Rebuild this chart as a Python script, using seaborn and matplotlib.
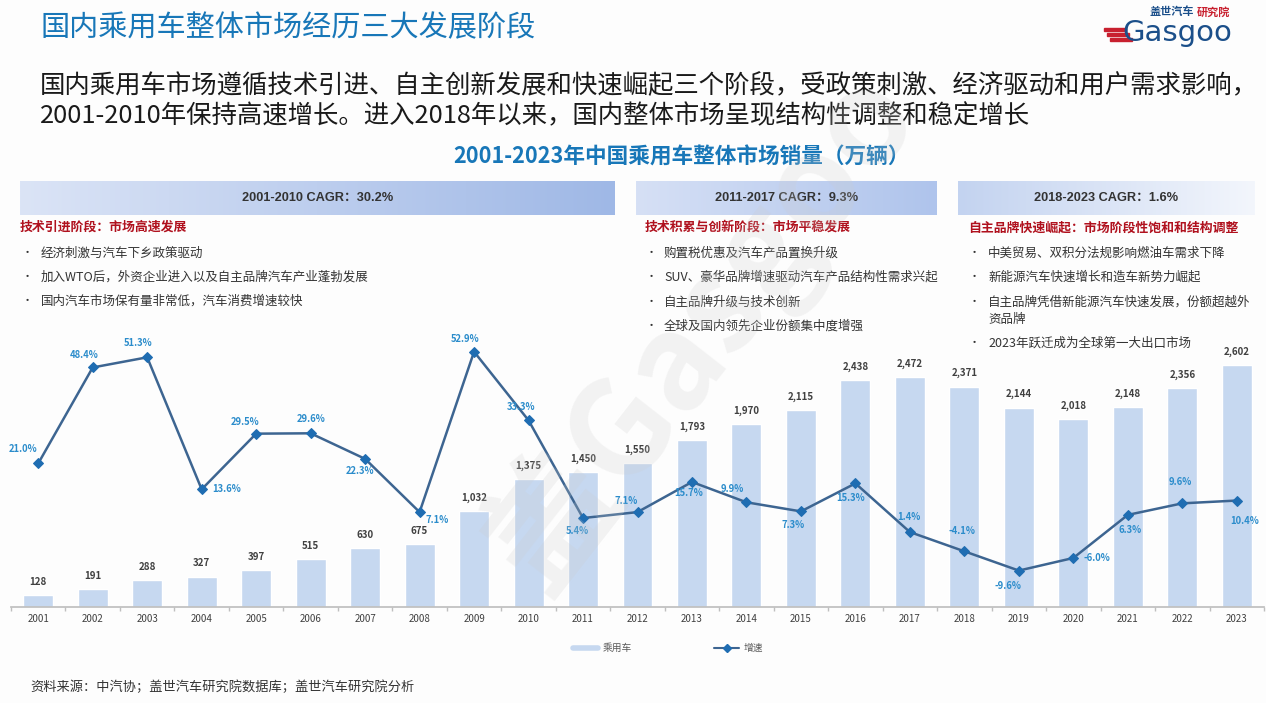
import numpy as np
import pandas as pd
import seaborn as sns
import matplotlib.pyplot as plt
from matplotlib.lines import Line2D
from matplotlib.patches import Rectangle

# 数据
years = [str(y) for y in range(2001, 2024)]
sales = [128, 191, 288, 327, 397, 515, 630, 675, 1032, 1375, 1450, 1550,
         1793, 1970, 2115, 2438, 2472, 2371, 2144, 2018, 2148, 2356, 2602]
growth = [21.0, 48.4, 51.3, 13.6, 29.5, 29.6, 22.3, 7.1, 52.9, 33.3, 5.4, 7.1,
          15.7, 9.9, 7.3, 15.3, 1.4, -4.1, -9.6, -6.0, 6.3, 9.6, 10.4]

stage_titles = ['2001-2010 CAGR：30.2%', '2011-2017 CAGR：9.3%', '2018-2023 CAGR：1.6%']
stage_heads = ['技术引进阶段：市场高速发展', '技术积累与创新阶段：市场平稳发展',
               '自主品牌快速崛起：市场阶段性饱和和结构调整']
stage_points = [
    ['经济刺激与汽车下乡政策驱动', '加入WTO后，外资企业进入以及自主品牌汽车产业蓬勃发展',
     '国内汽车市场保有量非常低，汽车消费增速较快'],
    ['购置税优惠及汽车产品置换升级', 'SUV、豪华品牌增速驱动汽车产品结构性需求兴起',
     '自主品牌升级与技术创新', '全球及国内领先企业份额集中度增强'],
    ['中美贸易、双积分法规影响燃油车需求下降', '新能源汽车快速增长和造车新势力崛起',
     '自主品牌凭借新能源汽车快速发展，份额超越外\n资品牌', '2023年跃迁成为全球第一大出口市场'],
]

df = pd.DataFrame({'year': years, 'sales': sales, 'growth': growth})
df['pos'] = np.arange(len(df))

sns.set_theme(style='white')
plt.rcParams['font.family'] = ['Noto Sans CJK SC', 'DejaVu Sans']

W, H = 1266, 703
fig = plt.figure(figsize=(W / 100, H / 100), dpi=100)
fig.patch.set_facecolor('#fdfdfd')


def fx(x):
    return x / W


def fy(y):
    return 1 - y / H


# 标题
fig.text(fx(41), fy(28), '国内乘用车整体市场经历三大发展阶段', fontsize=21,
         color='#1877b8', va='center', ha='left')
fig.text(fx(40), fy(86), '国内乘用车市场遵循技术引进、自主创新发展和快速崛起三个阶段，受政策刺激、经济驱动和用户需求影响，',
         fontsize=18.3, color='#1a1a1a', va='center', ha='left')
fig.text(fx(40), fy(116), '2001-2010年保持高速增长。进入2018年以来，国内整体市场呈现结构性调整和稳定增长',
         fontsize=18.3, color='#1a1a1a', va='center', ha='left')
fig.text(fx(681), fy(157), '2001-2023年中国乘用车整体市场销量（万辆）', fontsize=15.6,
         color='#1877b8', fontweight='bold', va='center', ha='center')

# logo
for i, yy in enumerate([29, 34, 39]):
    fig.patches.append(Rectangle((fx(1104 + i * 3), fy(yy + 2)), fx(22), 3 / H,
                                 transform=fig.transFigure, color='#c8202f'))
fig.text(fx(1150), fy(12), '盖世汽车', fontsize=8, color='#1b4f8a', fontweight='bold', va='center')
fig.text(fx(1197), fy(12), '研究院', fontsize=8, color='#c8202f', fontweight='bold', va='center')
fig.text(fx(1122), fy(33), 'Gasgoo', fontsize=21, color='#1b4f8a', va='center', ha='left',
         family='DejaVu Sans')

# 阶段说明
bands = [(20, 615, '#dbe4f6', '#9fb8e6'), (636, 937, '#d6e0f5', '#afc4ec'),
         (958, 1255, '#c3d3f0', '#f3f6fc')]
head_x = [20, 645, 968]
text_x = [(22, 41), (646, 664), (969, 988)]
bullet_y = [[253, 277, 301], [253, 277, 302, 326], [253, 277, 302, 343]]
for k, (x0, x1, c0, c1) in enumerate(bands):
    bax = fig.add_axes([fx(x0), fy(215), fx(x1 - x0), 34 / H])
    grad = np.linspace(0, 1, 256).reshape(1, -1)
    cmap = sns.blend_palette([c0, c1], as_cmap=True)
    bax.imshow(grad, aspect='auto', cmap=cmap, extent=[0, 1, 0, 1])
    bax.set_axis_off()
    bax.text(0.5, 0.5, stage_titles[k], ha='center', va='center', fontsize=9.2,
             fontweight='bold', color='#333333', family=['Liberation Sans', 'Noto Sans CJK SC'])
    fig.text(fx(head_x[k]), fy(227), stage_heads[k], fontsize=9.3, fontweight='bold',
             color='#b0111e', va='center', ha='left')
    bx, tx = text_x[k]
    for j, line in enumerate(stage_points[k]):
        yy = bullet_y[k][j]
        fig.text(fx(bx), fy(yy), '•', fontsize=8, color='#333333', va='center')
        if '\n' in line:
            fig.text(fx(tx), fy(yy - 6), line, fontsize=9, color='#333333',
                     va='top', ha='left', linespacing=1.35)
        else:
            fig.text(fx(tx), fy(yy), line, fontsize=9, color='#333333',
                     va='center', ha='left')

# 主图
ax = fig.add_axes([fx(11), fy(607), fx(1253), 277 / H])
ax.set_facecolor('none')
sns.barplot(data=df, x='year', y='sales', color='#c6d8f0', saturation=1, width=0.55, ax=ax)
ax.set_ylim(0, 2980)
ax.set_xlim(-0.5, len(df) - 0.5)
ax.bar_label(ax.containers[0], labels=[f'{v:,}' for v in sales], padding=6,
             fontsize=7, fontweight='bold', color='#404040')
ax.set_xlabel('')
ax.set_ylabel('')
ax.set_yticks([])
for s in ['top', 'right', 'left']:
    ax.spines[s].set_visible(False)
ax.spines['bottom'].set_color('#bfbfbf')
ax.tick_params(axis='x', length=0, labelsize=7, labelcolor='#404040', pad=5)
ax.set_xticks(np.arange(-0.5, len(df), 1), minor=True)
ax.tick_params(axis='x', which='minor', length=3, color='#bfbfbf', bottom=True)

ax2 = ax.twinx()
sns.lineplot(data=df, x='pos', y='growth', ax=ax2, color='#3d6591', linewidth=1.8,
             marker='D', markersize=5, markerfacecolor='#1f6db2', markeredgecolor='#1f6db2')
ax2.set_ylim(-20, 59.1)
ax2.set_axis_off()

offsets = [(-15, 14), (-9, 12), (-9, 14), (25, 0), (-11, 12), (0, 14), (-5, -12), (18, -8),
           (-9, 13), (-7, 13), (-6, -13), (-11, 11), (-3, -11), (-14, 13), (-8, -14),
           (-5, -15), (-1, 15), (-2, 20), (-11, -15), (24, 0), (2, -15), (-2, 21), (8, -20)]
for i, g in enumerate(growth):
    ax2.annotate(f'{g:.1f}%', (i, g), xytext=offsets[i], textcoords='offset pixels',
                 ha='center', va='center', fontsize=6.8, fontweight='bold', color='#2b8ccb')

# 图例
handles = [Line2D([0], [0], color='#c6d8f0', linewidth=4),
           Line2D([0], [0], color='#3d6591', linewidth=1.5, marker='D', markersize=4,
                  markerfacecolor='#1f6db2', markeredgecolor='#1f6db2')]
fig.legend(handles, ['乘用车', '增速'], loc='center', bbox_to_anchor=(fx(668), fy(648)),
           ncol=2, frameon=False, fontsize=7, labelcolor='#595959', handlelength=2.6,
           columnspacing=8.5, handletextpad=0.4)

# 水印
fig.text(fx(700), fy(330), '盖Gasgoo', fontsize=95, color='#cccccc', alpha=0.22,
         rotation=52, ha='center', va='center', fontweight='bold')

fig.text(fx(30), fy(687), '资料来源：中汽协；盖世汽车研究院数据库；盖世汽车研究院分析',
         fontsize=9.5, color='#333333', va='center', ha='left')

fig.savefig('out.png', dpi=100, facecolor=fig.get_facecolor())
